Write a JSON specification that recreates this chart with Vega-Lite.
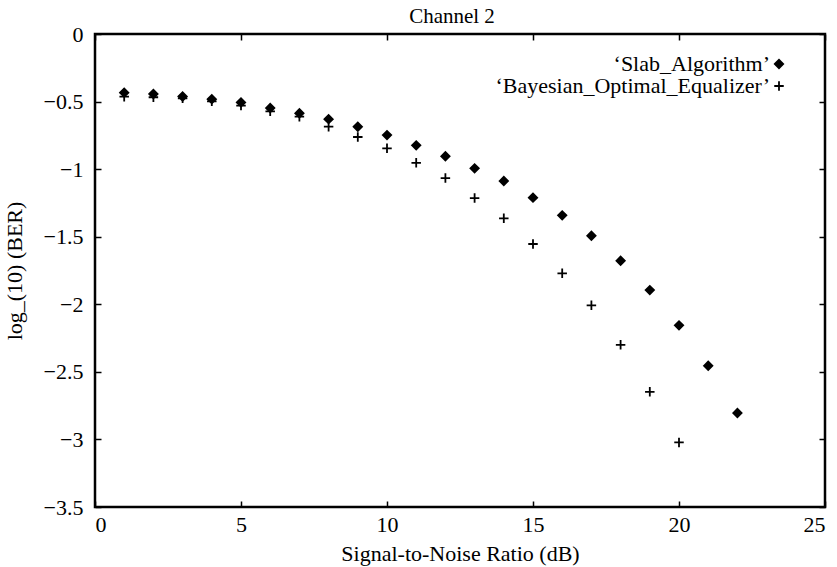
{
  "$schema": "https://vega.github.io/schema/vega-lite/v6.json",
  "width": 730,
  "height": 473,
  "autosize": {"type": "none"},
  "padding": {"left": 95, "top": 34, "right": 12, "bottom": 60},
  "background": "white",
  "config": {
    "font": "Liberation Serif",
    "view": {"stroke": "black", "strokeWidth": 2.5},
    "axis": {
      "grid": false,
      "domain": false,
      "ticks": true,
      "tickColor": "black",
      "tickWidth": 1.5,
      "tickSize": -6,
      "labelColor": "black",
      "labelFont": "Liberation Serif",
      "labelFontSize": 22,
      "titleFont": "Liberation Serif",
      "titleFontSize": 22,
      "titleFontWeight": "normal",
      "titleColor": "black"
    },
    "legend": {
      "labelFont": "Liberation Serif",
      "labelFontSize": 22,
      "labelColor": "black",
      "padding": 0
    }
  },
  "title": {
    "text": "Channel 2",
    "font": "Liberation Serif",
    "fontSize": 21,
    "fontWeight": "normal",
    "color": "black",
    "frame": "group",
    "anchor": "middle",
    "offset": -4,
    "dx": -8
  },
  "data": {
    "values": [
      {"snr": 1, "logber": -0.434, "series": "Slab"},
      {"snr": 2, "logber": -0.444, "series": "Slab"},
      {"snr": 3, "logber": -0.462, "series": "Slab"},
      {"snr": 4, "logber": -0.482, "series": "Slab"},
      {"snr": 5, "logber": -0.506, "series": "Slab"},
      {"snr": 6, "logber": -0.548, "series": "Slab"},
      {"snr": 7, "logber": -0.587, "series": "Slab"},
      {"snr": 8, "logber": -0.630, "series": "Slab"},
      {"snr": 9, "logber": -0.686, "series": "Slab"},
      {"snr": 10, "logber": -0.748, "series": "Slab"},
      {"snr": 11, "logber": -0.824, "series": "Slab"},
      {"snr": 12, "logber": -0.905, "series": "Slab"},
      {"snr": 13, "logber": -0.994, "series": "Slab"},
      {"snr": 14, "logber": -1.088, "series": "Slab"},
      {"snr": 15, "logber": -1.211, "series": "Slab"},
      {"snr": 16, "logber": -1.342, "series": "Slab"},
      {"snr": 17, "logber": -1.493, "series": "Slab"},
      {"snr": 18, "logber": -1.678, "series": "Slab"},
      {"snr": 19, "logber": -1.895, "series": "Slab"},
      {"snr": 20, "logber": -2.156, "series": "Slab"},
      {"snr": 21, "logber": -2.455, "series": "Slab"},
      {"snr": 22, "logber": -2.805, "series": "Slab"},
      {"snr": 1, "logber": -0.464, "series": "Bayes"},
      {"snr": 2, "logber": -0.468, "series": "Bayes"},
      {"snr": 3, "logber": -0.476, "series": "Bayes"},
      {"snr": 4, "logber": -0.498, "series": "Bayes"},
      {"snr": 5, "logber": -0.530, "series": "Bayes"},
      {"snr": 6, "logber": -0.572, "series": "Bayes"},
      {"snr": 7, "logber": -0.612, "series": "Bayes"},
      {"snr": 8, "logber": -0.686, "series": "Bayes"},
      {"snr": 9, "logber": -0.762, "series": "Bayes"},
      {"snr": 10, "logber": -0.846, "series": "Bayes"},
      {"snr": 11, "logber": -0.953, "series": "Bayes"},
      {"snr": 12, "logber": -1.066, "series": "Bayes"},
      {"snr": 13, "logber": -1.214, "series": "Bayes"},
      {"snr": 14, "logber": -1.364, "series": "Bayes"},
      {"snr": 15, "logber": -1.554, "series": "Bayes"},
      {"snr": 16, "logber": -1.771, "series": "Bayes"},
      {"snr": 17, "logber": -2.008, "series": "Bayes"},
      {"snr": 18, "logber": -2.300, "series": "Bayes"},
      {"snr": 19, "logber": -2.648, "series": "Bayes"},
      {"snr": 20, "logber": -3.022, "series": "Bayes"}
    ]
  },
  "layer": [
    {
      "mark": {"type": "point", "filled": true, "opacity": 1, "stroke": "black", "strokeWidth": 1.8, "color": "black"},
      "encoding": {
        "x": {
          "field": "snr", "type": "quantitative",
          "scale": {"domain": [0, 25], "nice": false, "zero": false},
          "axis": {"title": "Signal-to-Noise Ratio (dB)", "values": [0, 5, 10, 15, 20, 25], "format": "d", "labelPadding": 13, "titlePadding": 8}
        },
        "y": {
          "field": "logber", "type": "quantitative",
          "scale": {"domain": [-3.5, 0], "nice": false, "zero": false},
          "axis": {"title": "log_(10) (BER)", "values": [0, -0.5, -1, -1.5, -2, -2.5, -3, -3.5], "format": "~g", "labelPadding": 18, "titlePadding": 17}
        },
        "shape": {
          "field": "series", "type": "nominal",
          "scale": {"domain": ["Slab", "Bayes"], "range": ["diamond", "M-1,0L1,0M0,-1L0,1"]},
          "legend": {
            "title": null,
            "orient": "none",
            "legendX": 673,
            "legendY": 19,
            "labelAlign": "right",
            "labelOffset": -20,
            "labelLimit": 500,
            "rowPadding": 0,
            "labelExpr": "datum.label == 'Slab' ? '‘Slab_Algorithm’' : '‘Bayesian_Optimal_Equalizer’'",
            "symbolFillColor": "black",
            "symbolStrokeColor": "black",
            "symbolStrokeWidth": 1.8,
            "symbolOpacity": 1
          }
        },
        "size": {
          "field": "series", "type": "nominal",
          "scale": {"domain": ["Slab", "Bayes"], "range": [70, 90]}
        }
      }
    },
    {
      "mark": {"type": "point", "opacity": 0},
      "encoding": {
        "x": {
          "field": "snr", "type": "quantitative",
          "axis": {"orient": "top", "labels": false, "title": null, "values": [0, 5, 10, 15, 20, 25]}
        },
        "y": {
          "field": "logber", "type": "quantitative",
          "axis": {"orient": "right", "labels": false, "title": null, "values": [0, -0.5, -1, -1.5, -2, -2.5, -3, -3.5]}
        }
      }
    }
  ],
  "resolve": {"axis": {"x": "independent", "y": "independent"}}
}
